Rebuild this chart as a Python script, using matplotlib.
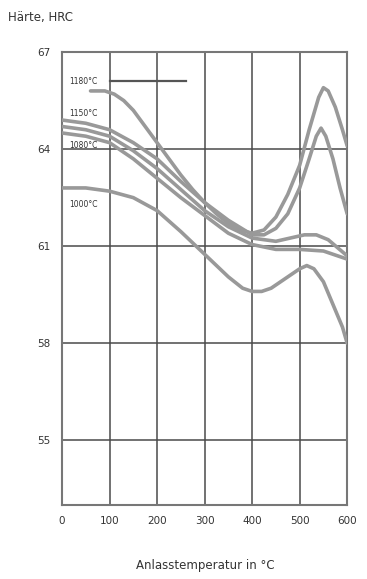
import matplotlib
matplotlib.use("Agg")
import matplotlib.pyplot as plt

# ─── Data ─────────────────────────────────────────────────────────────────────

temps_1180 = [60, 90, 110, 130, 150, 175, 200, 225, 250, 275, 300, 325, 350, 375, 400,
              425, 450, 475, 500, 520, 540, 550, 560, 575, 590, 600]
hrc_1180 = [65.8, 65.8, 65.7, 65.5, 65.2, 64.7, 64.2, 63.7, 63.2, 62.75, 62.35, 62.0, 61.7,
            61.5, 61.4, 61.5, 61.9, 62.6, 63.5, 64.6, 65.6, 65.9, 65.8, 65.3, 64.6, 64.1]

temps_1150 = [0, 50, 100, 150, 200, 250, 300, 350, 400, 425, 450, 475, 500, 520, 535,
              545, 555, 570, 585, 600]
hrc_1150 = [64.9, 64.8, 64.6, 64.2, 63.7, 63.0, 62.35, 61.8, 61.35, 61.35, 61.55, 62.0,
            62.8, 63.7, 64.4, 64.65, 64.4, 63.7, 62.8, 62.0]

temps_1100 = [0, 50, 100, 150, 200, 250, 300, 350, 400, 450, 480, 510, 535, 560, 580, 600]
hrc_1100 = [64.7, 64.6, 64.4, 63.95, 63.4, 62.75, 62.1, 61.6, 61.25, 61.15, 61.25, 61.35,
            61.35, 61.2, 60.95, 60.7]

temps_1080 = [0, 50, 100, 150, 200, 250, 300, 350, 400, 450, 500, 550, 600]
hrc_1080 = [64.5, 64.4, 64.2, 63.7, 63.1, 62.5, 61.95, 61.4, 61.05, 60.9, 60.9, 60.85, 60.6]

temps_1000 = [0, 50, 100, 150, 200, 250, 300, 350, 380, 400, 420, 440, 470, 500, 515,
              530, 550, 570, 590, 600]
hrc_1000 = [62.8, 62.8, 62.7, 62.5, 62.1, 61.45, 60.75, 60.05, 59.7, 59.6, 59.6, 59.7,
            60.0, 60.3, 60.4, 60.3, 59.9, 59.2, 58.5, 58.0]

curve_labels = ["1180°C", "1150°C", "1080°C", "1000°C"]
label_hrc = [66.1, 65.1, 64.1, 62.3]

x_ticks = [0, 100, 200, 300, 400, 500, 600]
y_ticks = [55, 58, 61, 64, 67]

# ─── Figure ───────────────────────────────────────────────────────────────────

fig = plt.figure(figsize=(3.67, 5.79), dpi=100)
ax = fig.add_axes([0.169, 0.128, 0.777, 0.782])

grid_col = "#4a4a4a"
curve_col = "#999999"

for x in x_ticks[1:-1]:
    ax.axvline(x, color=grid_col, lw=1.1, zorder=1)
for y in y_ticks[:-1]:
    ax.axhline(y, color=grid_col, lw=1.1, zorder=1)

series = [
    (temps_1180, hrc_1180),
    (temps_1150, hrc_1150),
    (temps_1100, hrc_1100),
    (temps_1080, hrc_1080),
    (temps_1000, hrc_1000),
]
for t, h in series:
    ax.plot(t, h, color=curve_col, lw=2.6, solid_capstyle="round",
            solid_joinstyle="round", zorder=3)

# curve labels
for lab, v in zip(curve_labels, label_hrc):
    ax.text(15, v, lab, fontsize=5.5, color="#333333", va="center", ha="left", zorder=4)
ax.plot([100, 260], [label_hrc[0], label_hrc[0]], color="#555555", lw=1.6, zorder=4)

ax.set_xlim(0, 600)
ax.set_ylim(53.0, 67)
ax.set_xticks(x_ticks)
ax.set_yticks(y_ticks)
ax.tick_params(length=0, labelsize=7.5, colors="#333333", pad=8)

for s in ax.spines.values():
    s.set_color("#777777")
    s.set_linewidth(1.5)

fig.text(8 / 367, 1 - 18 / 579, "Härte, HRC", fontsize=8.5, color="#333333", va="center", ha="left")
fig.text(0.56, 1 - 565 / 579, "Anlasstemperatur in °C", fontsize=8.5, color="#333333",
         va="center", ha="center")

fig.savefig("out.png", dpi=100)
